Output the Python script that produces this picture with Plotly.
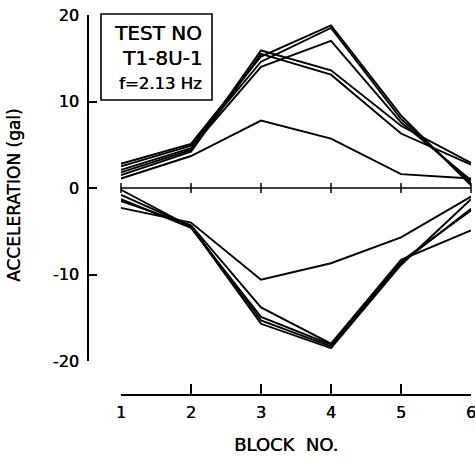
import plotly.graph_objects as go

blocks = [1, 2, 3, 4, 5, 6]
block_labels = ["1", "2", "3", "4", "5", "6"]

# positive peak accelerations (gal)
pos_1 = [2.8, 5.1, 15.2, 18.8, 8.4, 0.3]
pos_2 = [2.5, 4.9, 14.6, 18.5, 8.0, 0.6]
pos_3 = [2.1, 4.6, 14.0, 17.0, 7.6, 0.9]
pos_4 = [1.8, 4.4, 15.9, 13.6, 7.2, 2.9]
pos_5 = [1.5, 4.2, 15.5, 13.1, 6.3, 2.7]
pos_6 = [1.1, 3.7, 7.8, 5.7, 1.6, 1.1]

# negative peak accelerations (gal)
neg_1 = [-0.2, -4.5, -15.7, -18.5, -8.9, -1.3]
neg_2 = [-0.8, -4.4, -15.3, -18.3, -8.7, -2.4]
neg_3 = [-1.3, -4.6, -14.9, -18.1, -8.5, -2.6]
neg_4 = [-1.5, -4.3, -13.8, -18.0, -8.3, -4.9]
neg_5 = [-2.3, -4.0, -10.6, -8.7, -5.7, -1.0]

zero_line = [0, 0, 0, 0, 0, 0]

y_ticks = [-20, -10, 0, 10, 20]
y_tick_labels = ["-20", "-10", "0", "10", "20"]

W, H = 475, 457
FONT = "DejaVu Sans"
SH = "0.4px 0px 0px black"

fig = go.Figure()

for s in [pos_1, pos_2, pos_3, pos_4, pos_5, pos_6,
          neg_1, neg_2, neg_3, neg_4, neg_5]:
    fig.add_trace(go.Scatter(x=blocks, y=s, mode="lines",
                             line=dict(color="black", width=1.9),
                             showlegend=False, hoverinfo="skip", cliponaxis=False))

fig.add_trace(go.Scatter(x=blocks, y=zero_line, mode="lines+markers",
                         line=dict(color="black", width=1.5),
                         marker=dict(symbol="line-ns", size=7,
                                     line=dict(color="black", width=1.5)),
                         showlegend=False, hoverinfo="skip", cliponaxis=False))

def px_x(p):
    return p / W

def px_y(p):
    return 1 - p / H

eps = 0.002
fig.update_layout(
    width=W, height=H,
    margin=dict(l=0, r=0, t=0, b=0, pad=0, autoexpand=False),
    paper_bgcolor="white", plot_bgcolor="white",
    font=dict(family=FONT, color="black"),
    xaxis=dict(domain=[px_x(121 - 70 * eps), px_x(471 + 70 * eps)],
               range=[1 - eps, 6 + eps], automargin=False,
               anchor="free", position=px_y(395),
               showline=True, linecolor="black", linewidth=1.6,
               ticks="inside", ticklen=10, tickwidth=1.6, tickcolor="black",
               tickvals=blocks, ticktext=block_labels,
               tickfont=dict(size=16, family=FONT, shadow=SH),
               ticklabeloverflow="allow",
               showgrid=False, zeroline=False, ticklabelstandoff=3),
    yaxis=dict(domain=[px_y(361), px_y(15)], range=[-20, 20], automargin=False,
               anchor="free", position=px_x(88),
               showline=True, linecolor="black", linewidth=1.6,
               ticks="inside", ticklen=8, tickwidth=1.6, tickcolor="black",
               tickvals=y_ticks, ticktext=y_tick_labels,
               tickfont=dict(size=16, family=FONT, shadow=SH),
               ticklabeloverflow="allow",
               showgrid=False, zeroline=False, ticklabelstandoff=5),
)

fig.add_shape(type="rect", xref="paper", yref="paper",
              x0=px_x(101), x1=px_x(212), y0=px_y(100), y1=px_y(14),
              line=dict(color="black", width=1.6), fillcolor="white")

fig.add_annotation(x=px_x(204), y=px_y(33), xref="paper", yref="paper",
                   text="TEST NO", showarrow=False, xanchor="right", yanchor="middle",
                   font=dict(size=20, family=FONT, shadow=SH))
fig.add_annotation(x=px_x(204), y=px_y(58), xref="paper", yref="paper",
                   text="T1-8U-1", showarrow=False, xanchor="right", yanchor="middle",
                   font=dict(size=20, family=FONT, shadow=SH))
fig.add_annotation(x=px_x(204), y=px_y(83), xref="paper", yref="paper",
                   text="f=2.13 Hz", showarrow=False, xanchor="right", yanchor="middle",
                   font=dict(size=16.5, family=FONT, shadow=SH))

fig.add_annotation(x=px_x(14), y=px_y(195), xref="paper", yref="paper",
                   text="ACCELERATION (gal)", showarrow=False, textangle=-90,
                   xanchor="center", yanchor="middle",
                   font=dict(size=17, family=FONT, shadow=SH))
fig.add_annotation(x=px_x(286), y=px_y(444), xref="paper", yref="paper",
                   text="BLOCK\u00a0\u00a0NO.", showarrow=False,
                   xanchor="center", yanchor="middle", borderpad=0,
                   font=dict(size=18, family=FONT, shadow=SH))

fig.write_html("out.html")
